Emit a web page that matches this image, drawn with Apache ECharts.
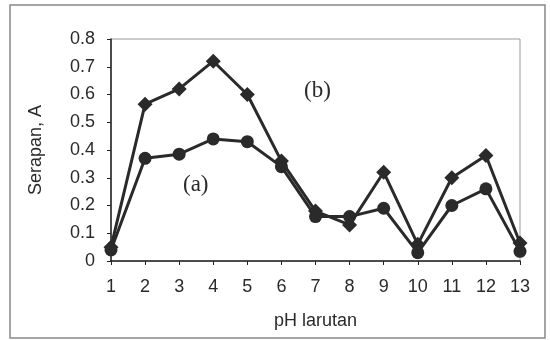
<!DOCTYPE html>
<html>
<head>
<meta charset="utf-8">
<script src="https://cdn.jsdelivr.net/npm/echarts@6/dist/echarts.min.js"></script>
<style>html,body{margin:0;padding:0;background:#fff}#c{width:550px;height:340px}</style>
</head>
<body>
<div id="c"></div>
<script>
var phValues = [1,2,3,4,5,6,7,8,9,10,11,12,13];
var seriesA = [0.04,0.37,0.385,0.44,0.43,0.34,0.16,0.16,0.19,0.03,0.20,0.26,0.035];
var seriesB = [0.05,0.565,0.62,0.72,0.60,0.36,0.18,0.13,0.32,0.06,0.30,0.38,0.065];
var xTitle = 'pH larutan';
var yTitle = 'Serapan, A';
var labelA = '(a)';
var labelB = '(b)';

function pairs(v){ return phValues.map(function(x,i){ return [x, v[i]]; }); }
var chart = echarts.init(document.getElementById('c'), null, {renderer:'canvas'});
var font = '"Liberation Sans", Arial, sans-serif';
chart.setOption({
  animation:false,
  backgroundColor:'#fff',
  grid:{left:111,right:30,top:39,bottom:79,show:true,borderColor:'#999',borderWidth:1},
  xAxis:{type:'value',min:1,max:13,interval:1,
    name:xTitle,nameLocation:'middle',nameGap:51,
    nameTextStyle:{fontFamily:font,fontSize:18,color:'#2a2a2a'},
    axisLine:{lineStyle:{color:'#222',width:1.5}},
    axisTick:{show:true,length:4,lineStyle:{color:'#222'}},
    axisLabel:{fontFamily:font,fontSize:18,color:'#2a2a2a',margin:17},
    splitLine:{show:false}},
  yAxis:{type:'value',min:0,max:0.8,interval:0.1,
    name:yTitle,nameLocation:'middle',nameGap:66,
    nameTextStyle:{fontFamily:font,fontSize:18,color:'#2a2a2a'},
    axisLine:{show:true,lineStyle:{color:'#222',width:1.5}},
    axisTick:{show:true,length:4,lineStyle:{color:'#222'}},
    axisLabel:{fontFamily:font,fontSize:18,color:'#2a2a2a',margin:16,
      formatter:function(v){ return v===0?'0':v.toFixed(1); }},
    splitLine:{show:false}},
  series:[
    {type:'line',data:pairs(seriesB),symbol:'diamond',symbolSize:15,
     lineStyle:{color:'#2a2a2a',width:3},itemStyle:{color:'#2a2a2a'}},
    {type:'line',data:pairs(seriesA),symbol:'circle',symbolSize:13,
     lineStyle:{color:'#2a2a2a',width:3},itemStyle:{color:'#2a2a2a'}}
  ],
  graphic:[
    {type:'rect',shape:{x:10,y:5,width:535,height:333},
     style:{fill:'none',stroke:'#888',lineWidth:1.5},z:-10},
    {type:'text',left:304,top:79,style:{text:labelB,font:'23px "Liberation Serif", "Times New Roman", serif',fill:'#2a2a2a'}},
    {type:'text',left:183,top:173,style:{text:labelA,font:'23px "Liberation Serif", "Times New Roman", serif',fill:'#2a2a2a'}}
  ]
});
</script>
</body>
</html>
